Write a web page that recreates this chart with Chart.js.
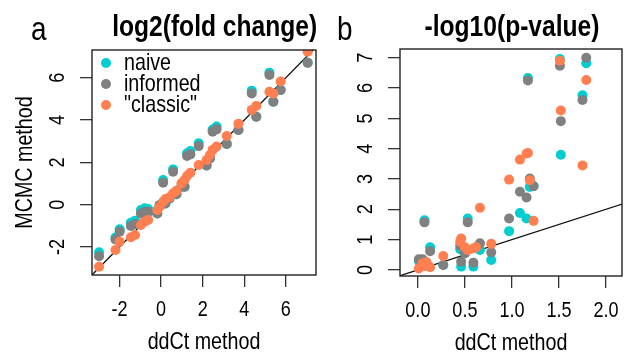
<!DOCTYPE html>
<html lang="en">
<head>
<meta charset="UTF-8" />
<title>MCMC vs ddCt</title>
<script src="https://cdn.jsdelivr.net/npm/chart.js"></script>
<style>
  html, body { margin: 0; padding: 0; background: #fff; }
  #wrap {
    position: relative;
    width: 627px;
    height: 356px;
    overflow: hidden;
    font-family: 'Liberation Sans', Arial, sans-serif;
    color: #000;
  }
  canvas { position: absolute; top: 0; }
  #chartA { left: 0; }
  #chartB { left: 322px; }
  .lab {
    position: absolute;
    font-size: 34px;
    line-height: 34px;
    transform: scaleX(0.82);
    transform-origin: left center;
  }
  .ttl {
    position: absolute;
    font-weight: bold;
    font-size: 30px;
    line-height: 30px;
    text-align: center;
    white-space: nowrap;
    transform: scaleX(0.82);
  }
</style>
</head>
<body>
<div id="wrap">
  <canvas id="chartA" width="322" height="356"></canvas>
  <canvas id="chartB" width="305" height="356"></canvas>
  <div class="lab" style="left:31px;top:11px">a</div>
  <div class="lab" style="left:337px;top:11px">b</div>
  <div class="ttl" style="left:92px;width:224px;top:11px">log2(fold change)</div>
  <div class="ttl" style="left:400px;width:224px;top:11px">-log10(p-value)</div>
</div>

<script>
  // series names + colours
  const seriesNames = ["naive", "informed", "\"classic\""];
  const seriesColors = ["#00CED1", "#808080", "#FF7F50"];

  // panel a : log2(fold change)
  const fcDdct = [-2.98, -2.19, -1.99, -1.45, -1.25, -0.97, -0.79, -0.62, -0.18, -0.07, 0.10, 0.21, 0.41, 0.58, 0.74, 0.98, 1.13, 1.25, 1.41, 1.81, 2.19, 2.35, 2.48, 2.67, 3.16, 3.72, 4.36, 4.58, 5.21, 5.40, 5.75, 7.05];
  const fcNaive = [-2.25, -1.55, -1.16, -0.85, -0.76, -0.25, -0.17, -0.20, -0.41, -0.02, 1.17, 0.06, 0.30, 1.67, 0.50, 0.85, 0.85, 2.43, 2.54, 2.90, 1.85, 2.19, 3.55, 3.69, 2.87, 3.53, 5.39, 4.16, 6.24, 4.87, 5.42, 6.71];
  const fcInformed = [-2.43, -1.64, -1.27, -1.00, -0.91, -0.41, -0.33, -0.33, -0.41, -0.02, 1.04, 0.06, 0.30, 1.56, 0.50, 0.85, 0.85, 2.30, 2.38, 2.77, 1.85, 2.19, 3.45, 3.56, 2.87, 3.53, 5.26, 4.16, 6.13, 4.87, 5.42, 6.71];
  const fcClassic = [-2.93, -2.14, -1.75, -1.54, -1.43, -0.96, -0.80, -0.72, -0.25, -0.09, 0.14, 0.27, 0.35, 0.54, 0.66, 1.01, 1.17, 1.36, 1.51, 1.88, 2.11, 2.35, 2.59, 2.75, 3.25, 3.82, 4.48, 4.67, 5.34, 5.26, 5.82, 7.23];

  // panel b : -log10(p-value)
  const pvDdct = [0.01, 0.05, 0.07, 0.09, 0.13, 0.27, 0.46, 0.45, 0.50, 0.53, 0.59, 0.62, 0.66, 0.78, 0.97, 1.085, 1.155, 1.17, 1.19, 1.23, 1.51, 1.52, 1.75, 1.79];
  const pvNaive = [0.30, 0.32, 1.64, 0.15, 0.75, 0.16, 0.11, 0.68, 0.55, 1.70, 0.11, 0.75, 0.66, 0.33, 1.28, 1.88, 1.70, 6.33, 2.74, 2.77, 6.96, 3.80, 5.76, 6.82];
  const pvInformed = [0.35, 0.35, 1.57, 0.25, 0.62, 0.16, 0.27, 0.80, 0.55, 1.57, 0.24, 0.75, 0.88, 0.58, 1.70, 2.58, 2.39, 6.25, 3.02, 2.76, 6.74, 4.91, 5.61, 7.00];
  const pvClassic = [0.05, 0.22, 0.13, 0.25, 0.09, 0.46, 1.04, 0.93, 0.75, 0.66, 0.71, 0.75, 2.05, 0.86, 2.98, 3.64, 3.84, 3.86, 2.96, 1.62, 6.90, 5.26, 3.45, 6.27];

  // ticks
  const fcXTicks = [-2, 0, 2, 4, 6];
  const fcYTicks = [-2, 0, 2, 4, 6];
  const pvXTicks = [0, 0.5, 1, 1.5, 2];
  const pvYTicks = [0, 1, 2, 3, 4, 5, 6, 7];

  // identity line y = x
  const diagLine = [-5, 10];

  const FONT = "'Liberation Sans', Arial, sans-serif";
  const NARROW = 0.82; // the original uses a narrow Helvetica
  Chart.defaults.font.family = FONT;
  Chart.defaults.color = "#000";

  // draw condensed text, squeezed along its own direction
  function narrowText(ctx, txt, x, y, size, rot, align) {
    ctx.save();
    ctx.translate(x, y);
    if (rot) ctx.rotate(rot);
    ctx.scale(NARROW, 1);
    ctx.font = size + "px " + FONT;
    ctx.textAlign = align || "center";
    ctx.textBaseline = "middle";
    ctx.fillText(txt, 0, 0);
    ctx.restore();
  }

  // box round plot area, tick labels, axis titles, legend (R style)
  const framePlugin = {
    id: "frame",
    afterDraw(chart, args, opts) {
      const ctx = chart.ctx;
      const a = chart.chartArea;
      ctx.save();
      ctx.strokeStyle = "#222";
      ctx.lineWidth = 1.4;
      ctx.strokeRect(a.left, a.top, a.right - a.left, a.bottom - a.top);
      ctx.fillStyle = "#000";

      const xs = chart.scales.x;
      xs.ticks.forEach((t) => {
        narrowText(ctx, opts.xFmt(t.value), xs.getPixelForValue(t.value), a.bottom + 35, 22);
      });
      narrowText(ctx, "ddCt method", (a.left + a.right) / 2, a.bottom + 67, 24);

      const ys = chart.scales.y;
      ys.ticks.forEach((t) => {
        narrowText(ctx, opts.yFmt(t.value), a.left - 34, ys.getPixelForValue(t.value), 22, -Math.PI / 2);
      });
      if (opts.yTitle) {
        narrowText(ctx, opts.yTitle, 25, (a.top + a.bottom) / 2, 24, -Math.PI / 2);
      }

      if (opts.legend) {
        seriesNames.forEach((name, i) => {
          const cy = a.top + 13 + i * 21;
          ctx.fillStyle = seriesColors[i];
          ctx.beginPath();
          ctx.arc(a.left + 14, cy, 5, 0, Math.PI * 2);
          ctx.fill();
          ctx.fillStyle = "#000";
          narrowText(ctx, name, a.left + 32, cy, 24, 0, "left");
        });
      }
      ctx.restore();
    },
  };

  function pts(xs, ys) {
    return xs.map((x, i) => ({ x: x, y: ys[i] }));
  }

  function makeChart(id, p) {
    const datasets = [
      {
        type: "line",
        data: diagLine.map((v) => ({ x: v, y: v })),
        borderColor: "#111",
        borderWidth: 1.3,
        pointRadius: 0,
        order: 4,
      },
    ];
    p.series.forEach((ys, i) => {
      datasets.push({
        label: seriesNames[i],
        data: pts(p.xs, ys),
        backgroundColor: seriesColors[i],
        borderWidth: 0,
        pointRadius: 5,
        pointHoverRadius: 5,
        order: 3 - i,
      });
    });

    const tickGrid = {
      drawOnChartArea: false,
      drawTicks: true,
      tickLength: 12,
      color: "#333",
      lineWidth: 1.3,
    };

    return new Chart(document.getElementById(id), {
      type: "scatter",
      data: { datasets: datasets },
      options: {
        responsive: false,
        animation: false,
        devicePixelRatio: 1,
        layout: { padding: p.padding },
        plugins: {
          legend: { display: false },
          tooltip: { enabled: false },
          frame: { xFmt: p.xFmt, yFmt: p.yFmt, yTitle: p.yTitle, legend: p.legend },
        },
        scales: {
          x: {
            type: "linear",
            min: p.xRange[0],
            max: p.xRange[1],
            afterBuildTicks: (s) => {
              s.ticks = p.xTicks.map((v) => ({ value: v }));
            },
            afterFit: (s) => {
              s.height = p.xAxisH;
            },
            grid: tickGrid,
            border: { display: false },
            ticks: { display: false },
          },
          y: {
            type: "linear",
            min: p.yRange[0],
            max: p.yRange[1],
            afterBuildTicks: (s) => {
              s.ticks = p.yTicks.map((v) => ({ value: v }));
            },
            afterFit: (s) => {
              s.width = p.yAxisW;
            },
            grid: tickGrid,
            border: { display: false },
            ticks: { display: false },
          },
        },
      },
      plugins: [framePlugin],
    });
  }

  makeChart("chartA", {
    xs: fcDdct,
    series: [fcNaive, fcInformed, fcClassic],
    xRange: [-3.32, 7.45],
    yRange: [-3.32, 7.31],
    xTicks: fcXTicks,
    yTicks: fcYTicks,
    xFmt: (v) => String(v),
    yFmt: (v) => String(v),
    padding: { top: 50, right: 6, bottom: 0, left: 0 },
    xAxisH: 81,
    yAxisW: 92,
    yTitle: "MCMC method",
    legend: true,
  });

  makeChart("chartB", {
    xs: pvDdct,
    series: [pvNaive, pvInformed, pvClassic],
    xRange: [-0.19, 2.17],
    yRange: [-0.2, 7.29],
    xTicks: pvXTicks,
    yTicks: pvYTicks,
    xFmt: (v) => v.toFixed(1),
    yFmt: (v) => String(v),
    padding: { top: 49, right: 5, bottom: 0, left: 0 },
    xAxisH: 80,
    yAxisW: 78,
    yTitle: null,
    legend: false,
  });
</script>
</body>
</html>
